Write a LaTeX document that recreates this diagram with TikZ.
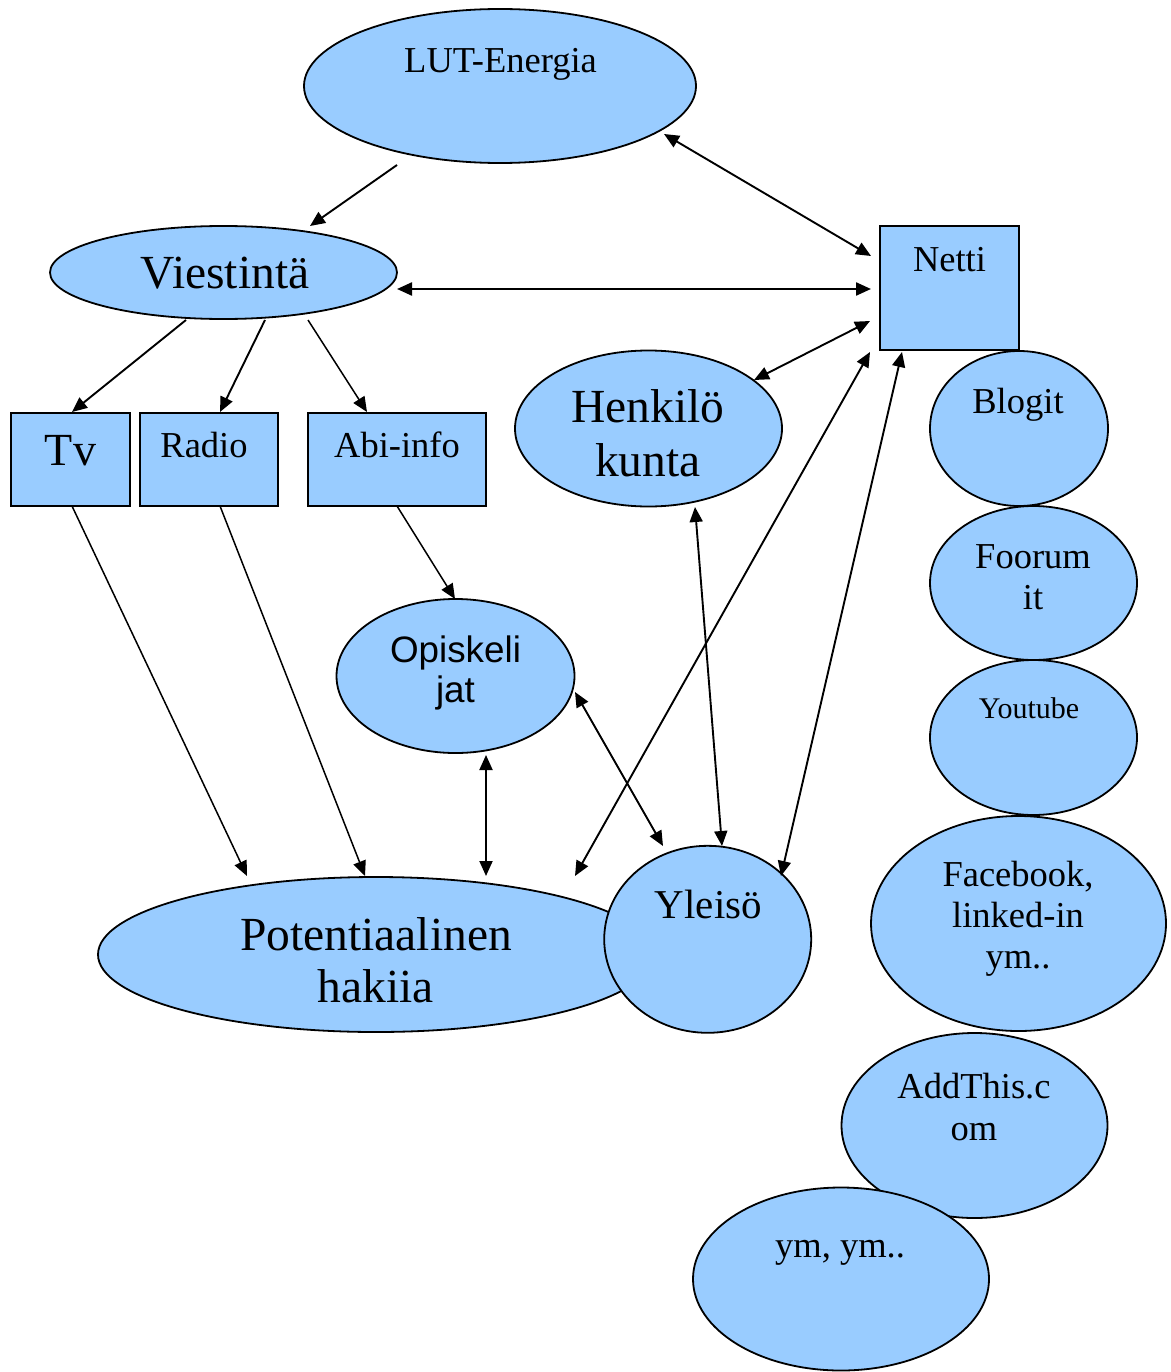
\documentclass[tikz,border=0pt]{standalone}
\usepackage{fontspec}
\setmainfont{Liberation Serif}
\newfontfamily\arialfont{Liberation Sans}
\usetikzlibrary{shapes.geometric,arrows.meta}
\definecolor{nodeblue}{RGB}{153,204,255}
\newcommand{\fsz}[1]{\fontsize{#1}{#1}\selectfont}
\begin{document}
\begin{tikzpicture}[x=1pt,y=-1pt,
  oval/.style={ellipse, draw=black, line width=1.8pt, fill=nodeblue, inner sep=0pt},
  box/.style={rectangle, draw=black, line width=1.8pt, fill=nodeblue, inner sep=0pt},
  txt/.style={anchor=base, inner sep=0pt, font=\fsz{36.5}},
  big/.style={anchor=base, inner sep=0pt, font=\fsz{47.5}},
  conn/.style={line width=1.9pt, -{Triangle[length=15pt,width=13pt]}},
  thin/.style={line width=1.5pt, -{Triangle[length=15pt,width=13pt]}},
  both/.style={line width=1.9pt, {Triangle[length=15pt,width=13pt]}-{Triangle[length=15pt,width=13pt]}}
]
\useasboundingbox (0,0) rectangle (1170,1372);

% shapes
\node[oval, minimum width=392pt, minimum height=154pt] (lut) at (500,86) {};
\node[oval, minimum width=347pt, minimum height=93pt] (viest) at (223.5,272.5) {};
\node[box, minimum width=119pt, minimum height=93pt] (tv) at (70.5,459.5) {};
\node[box, minimum width=138pt, minimum height=93pt] (radio) at (209,459.5) {};
\node[box, minimum width=178pt, minimum height=93pt] (abi) at (397,459.5) {};
\node[box, minimum width=139pt, minimum height=124pt] (netti) at (949.5,288) {};
\node[oval, minimum width=267pt, minimum height=156pt] (henk) at (648.5,428.5) {};
\node[oval, minimum width=178pt, minimum height=155pt] (blogit) at (1019,428.5) {};
\node[oval, minimum width=207pt, minimum height=154pt] (foorum) at (1033.5,583) {};
\node[oval, minimum width=207pt, minimum height=155pt] (youtube) at (1033.5,737.5) {};
\node[oval, minimum width=295pt, minimum height=215pt] (facebook) at (1018.5,923.5) {};
\node[oval, minimum width=266pt, minimum height=185pt] (addthis) at (974.5,1125.5) {};
\node[oval, minimum width=296pt, minimum height=183pt] (ymym) at (841,1279) {};
\node[oval, minimum width=238pt, minimum height=154pt] (opisk) at (455.5,676) {};
\node[oval, minimum width=556pt, minimum height=155pt] (potent) at (376,954.5) {};
\node[oval, minimum width=207pt, minimum height=187pt] (yleiso) at (707.7,939.3) {};

% texts
\node[txt] (lutT) at (500.5,73) {LUT-Energia};
\node[big] (viestT) at (225,288) {Viestintä};
\node[big, font=\fsz{46}] (tvT) at (70.5,465) {Tv};
\node[txt] (radioT) at (204,457) {Radio};
\node[txt] (abiT) at (397,457) {Abi-info};
\node[txt] (nettiT) at (949.5,271) {Netti};
\node[big] (henkT1) at (648,422) {Henkilö};
\node[big] (henkT2) at (648,476) {kunta};
\node[txt] (blogitT) at (1018,413) {Blogit};
\node[txt] (foorumT1) at (1033,568) {Foorum};
\node[txt] (foorumT2) at (1033,609) {it};
\node[txt, font=\fsz{30}] (youtubeT) at (1029,718) {Youtube};
\node[txt] (fbT1) at (1018,886.5) {Facebook,};
\node[txt] (fbT2) at (1018,927.5) {linked-in};
\node[txt] (fbT3) at (1018,968.5) {ym..};
\node[txt] (addT1) at (974,1098) {AddThis.c};
\node[txt] (addT2) at (974,1140) {om};
\node[txt] (ymT) at (840,1257) {ym, ym..};
\node[txt, font=\arialfont\fsz{36.8}] (opT1) at (455.5,662) {Opiskeli};
\node[txt, font=\arialfont\fsz{36.8}] (opT2) at (455.5,702) {jat};
\node[txt, font=\fsz{41}] (yleisoT) at (708.5,918) {Yleisö};
\node[big] (potT1) at (376,950) {Potentiaalinen};
\node[big] (potT2) at (376,1002) {hakiia};

% connector end points
\coordinate (lutA) at (397,165);   \coordinate (viestA) at (310,226);
\coordinate (lutB) at (664,134);   \coordinate (nettiB) at (871,256);
\coordinate (viestC) at (397,289); \coordinate (nettiC) at (871,289);
\coordinate (viestD) at (186,320); \coordinate (tvD) at (72,412);
\coordinate (viestE) at (265,320); \coordinate (radioE) at (220,412);
\coordinate (viestF) at (308,320); \coordinate (abiF) at (367,412);
\coordinate (nettiG) at (870,321); \coordinate (henkG) at (754,380);
\coordinate (nettiH) at (870,352); \coordinate (potH) at (575,876);
\coordinate (nettiI) at (902,352); \coordinate (yleisoI) at (781,876);
\coordinate (henkJ) at (695,507);  \coordinate (yleisoJ) at (722,846);
\coordinate (abiK) at (397,506);   \coordinate (opK) at (455,599);
\coordinate (opL) at (575,692);    \coordinate (yleisoL) at (663,846);
\coordinate (opM) at (486,755);    \coordinate (potM) at (486,876);
\coordinate (tvN) at (72,506);     \coordinate (potN) at (247,876);
\coordinate (radioO) at (220,506); \coordinate (potO) at (365,876);

% connectors
\draw[conn] (lutA) -- (viestA);
\draw[both] (lutB) -- (nettiB);
\draw[both, line width=2.3pt] (viestC) -- (nettiC);
\draw[conn] (viestD) -- (tvD);
\draw[conn] (viestE) -- (radioE);
\draw[thin] (viestF) -- (abiF);
\draw[both] (nettiG) -- (henkG);
\draw[both] (nettiH) -- (potH);
\draw[both] (nettiI) -- (yleisoI);
\draw[both] (henkJ) -- (yleisoJ);
\draw[thin] (abiK) -- (opK);
\draw[both] (opL) -- (yleisoL);
\draw[both] (opM) -- (potM);
\draw[thin] (tvN) -- (potN);
\draw[thin] (radioO) -- (potO);
\end{tikzpicture}
\end{document}
